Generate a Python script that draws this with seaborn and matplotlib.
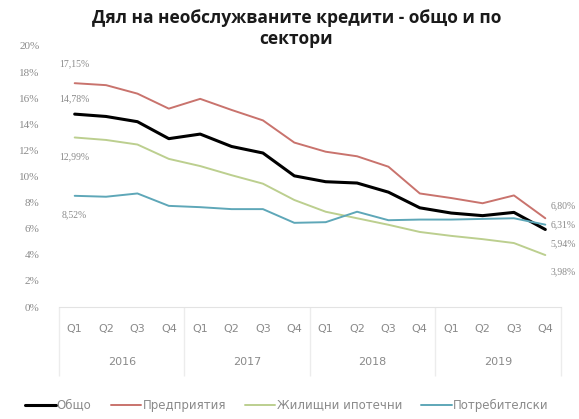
import matplotlib
matplotlib.use('Agg')
import matplotlib.pyplot as plt
import matplotlib.ticker as mticker
import pandas as pd
import seaborn as sns

# Data (percent)
quarters = ['Q1', 'Q2', 'Q3', 'Q4'] * 4
years = ['2016', '2017', '2018', '2019']
obshto = [14.78, 14.6, 14.2, 12.9, 13.25, 12.3, 11.8, 10.05, 9.6, 9.5, 8.8, 7.6, 7.2, 7.0, 7.25, 5.94]
predpriyatiya = [17.15, 17.0, 16.35, 15.2, 15.95, 15.1, 14.3, 12.6, 11.9, 11.55, 10.75, 8.7, 8.35, 7.95, 8.55, 6.80]
zhilishtni = [12.99, 12.8, 12.45, 11.35, 10.8, 10.1, 9.45, 8.2, 7.3, 6.8, 6.3, 5.75, 5.45, 5.2, 4.9, 3.98]
potrebitelski = [8.52, 8.45, 8.7, 7.75, 7.65, 7.5, 7.5, 6.45, 6.5, 7.3, 6.65, 6.7, 6.7, 6.75, 6.8, 6.31]

series_names = ['Общо', 'Предприятия', 'Жилищни ипотечни', 'Потребителски']
series_vals = [obshto, predpriyatiya, zhilishtni, potrebitelski]
colors = {'Общо': '#000000', 'Предприятия': '#c9736d',
          'Жилищни ипотечни': '#bccf8f', 'Потребителски': '#5ea7b8'}
widths = {'Общо': 2.2, 'Предприятия': 1.4, 'Жилищни ипотечни': 1.4, 'Потребителски': 1.4}

rows = []
for name, vals in zip(series_names, series_vals):
    for i, v in enumerate(vals):
        rows.append({'idx': i, 'value': v, 'series': name})
df = pd.DataFrame(rows)

sns.set_style('white')
plt.rcParams['font.family'] = ['DejaVu Sans']

fig = plt.figure(figsize=(5.79, 4.19), dpi=100)
ax = fig.add_axes([59 / 579, 112 / 419, 502 / 579, 261 / 419])

for name in series_names:
    sns.lineplot(data=df[df['series'] == name], x='idx', y='value', color=colors[name],
                 lw=widths[name], ax=ax, label=name, legend=False)

ax.set_xlim(-0.5, 15.5)
ax.set_ylim(0, 20)
ax.yaxis.set_major_locator(mticker.MultipleLocator(2))
ax.yaxis.set_major_formatter(mticker.FuncFormatter(lambda v, p: f'{v:.0f}%'))
ax.set_xlabel('')
ax.set_ylabel('')
for s in ['top', 'right', 'left']:
    ax.spines[s].set_visible(False)
ax.spines['bottom'].set_color('#e3e3e3')
ax.tick_params(axis='y', length=0, pad=14, labelsize=8, labelcolor='#8a8a8a')
for t in ax.get_yticklabels():
    t.set_fontfamily('Liberation Serif')

ax.set_xticks(range(16))
ax.set_xticklabels(quarters, fontsize=8, color='#8a8a8a')
ax.tick_params(axis='x', length=0, pad=12)

# year level of the category axis
sec = ax.secondary_xaxis('bottom')
sec.set_xticks([1.5, 5.5, 9.5, 13.5])
sec.set_xticklabels(years, fontsize=8, color='#8a8a8a')
sec.tick_params(axis='x', length=0, pad=36)
sec.spines['bottom'].set_visible(False)
sec.set_xticks([-0.5, 3.5, 7.5, 11.5, 15.5], minor=True)
sec.tick_params(axis='x', which='minor', length=50, color='#ececec', width=1)

# first and last value labels
lbl = dict(fontsize=7, color='#8a8a8a', family='Liberation Serif',
           textcoords='offset points', annotation_clip=False)
fmt = lambda v: f'{v:.2f}%'.replace('.', ',')
start_off = [(0, 11), (0, 14), (0, -14), (0, -14)]
end_map = {'Общо': (4, -10), 'Предприятия': (4, 9), 'Жилищни ипотечни': (4, -12), 'Потребителски': (4, 0)}
for (name, vals), so in zip(zip(series_names, series_vals), start_off):
    ax.annotate(fmt(vals[0]), (0, vals[0]), xytext=so, ha='center', va='center', **lbl)
    ax.annotate(fmt(vals[-1]), (15, vals[-1]), xytext=end_map[name], ha='left', va='center', **lbl)

fig.text(0.512, 0.978, 'Дял на необслужваните кредити - общо и по\nсектори',
         ha='center', va='top', fontsize=12.5, fontweight='bold', family='Open Sans',
         color='#1a1a1a', linespacing=1.2)

handles = ax.get_lines()[:4]
leg = fig.legend(handles, series_names, loc='center left', bbox_to_anchor=(0.035, 0.033),
                 ncol=4, frameon=False, fontsize=8.5, handlelength=2.6, handletextpad=0.1,
                 columnspacing=1.6, borderaxespad=0)
for t in leg.get_texts():
    t.set_color('#8a8a8a')

fig.savefig('out.png', dpi=100)
